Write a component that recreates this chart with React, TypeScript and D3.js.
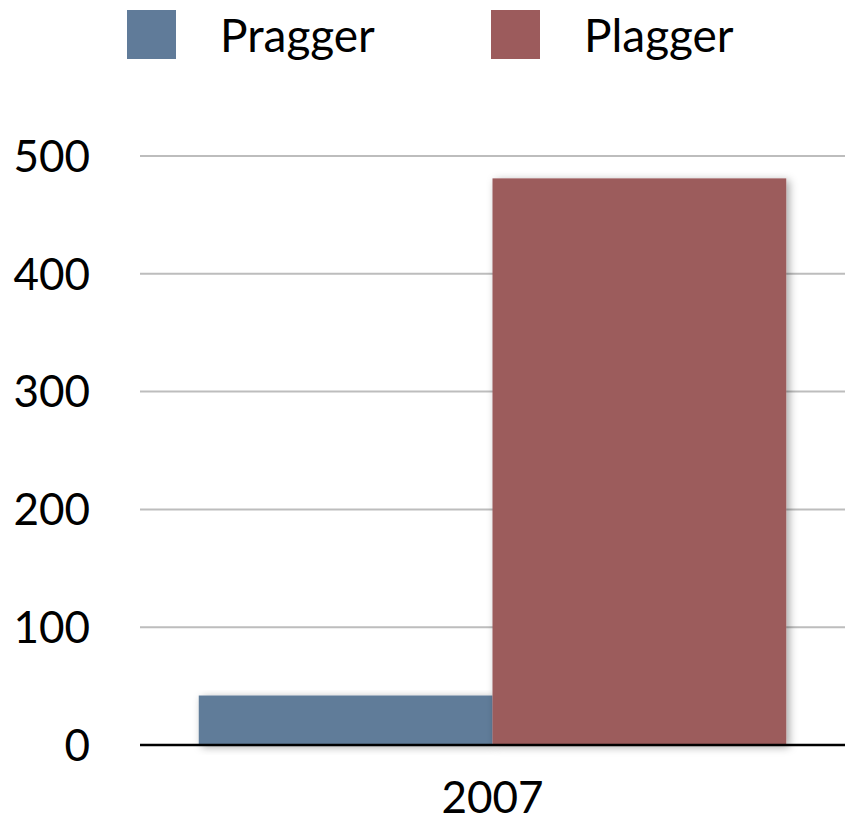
import React, { useEffect, useRef } from "react";
import * as d3 from "d3";

const categories = ["2007"];
const seriesNames = ["Pragger", "Plagger"];
const seriesColors = ["#607b99", "#9c5b5c"];
const pragger = [42];
const plagger = [481];
const yTicks = [0, 100, 200, 300, 400, 500];

const WIDTH = 855;
const HEIGHT = 823;
const FONT = "'Lato', 'Open Sans', sans-serif";

export default function App() {
  const svgRef = useRef<SVGSVGElement>(null);

  useEffect(() => {
    if (!svgRef.current) return;
    const svg = d3.select(svgRef.current);
    svg.selectAll("*").remove();

    const margin = { top: 156, right: 10, bottom: 78, left: 140 };
    const innerWidth = WIDTH - margin.left - margin.right;
    const innerHeight = HEIGHT - margin.top - margin.bottom;

    const defs = svg.append("defs");
    const shadow = defs.append("filter")
      .attr("id", "barShadow")
      .attr("x", "-10%").attr("y", "-10%")
      .attr("width", "130%").attr("height", "130%");
    shadow.append("feDropShadow")
      .attr("dx", 3).attr("dy", 2)
      .attr("stdDeviation", 4)
      .attr("flood-color", "#000")
      .attr("flood-opacity", 0.35);

    const g = svg.append("g")
      .attr("transform", `translate(${margin.left}, ${margin.top})`);

    const x0 = d3.scaleBand()
      .domain(categories)
      .range([0, innerWidth])
      .paddingInner(0)
      .paddingOuter(0.1);

    const x1 = d3.scaleBand()
      .domain(seriesNames)
      .range([0, x0.bandwidth()])
      .padding(0);

    const y = d3.scaleLinear()
      .domain([0, 500])
      .range([innerHeight, 0]);

    const color = d3.scaleOrdinal<string, string>()
      .domain(seriesNames)
      .range(seriesColors);

    // gridlines
    g.append("g")
      .selectAll("line")
      .data(yTicks.filter(t => t > 0))
      .join("line")
      .attr("x1", 0)
      .attr("x2", innerWidth)
      .attr("y1", d => y(d))
      .attr("y2", d => y(d))
      .attr("stroke", "#bdbdbd")
      .attr("stroke-width", 2);

    // y tick labels
    g.append("g")
      .selectAll("text")
      .data(yTicks)
      .join("text")
      .attr("x", -50)
      .attr("y", d => y(d))
      .attr("dy", "0.36em")
      .attr("text-anchor", "end")
      .style("font-family", FONT)
      .style("font-size", "44px")
      .attr("fill", "#000")
      .text(d => d);

    const rows = categories.map((c, i) => ({
      category: c,
      values: [
        { key: seriesNames[0], value: pragger[i] },
        { key: seriesNames[1], value: plagger[i] },
      ],
    }));

    // bars
    g.append("g")
      .selectAll("g")
      .data(rows)
      .join("g")
      .attr("transform", d => `translate(${x0(d.category)}, 0)`)
      .selectAll("rect")
      .data(d => d.values)
      .join("rect")
      .attr("x", d => x1(d.key) || 0)
      .attr("y", d => y(d.value))
      .attr("width", x1.bandwidth())
      .attr("height", d => innerHeight - y(d.value))
      .attr("fill", d => color(d.key))
      .attr("filter", "url(#barShadow)");

    // baseline
    g.append("line")
      .attr("x1", 0)
      .attr("x2", innerWidth)
      .attr("y1", y(0))
      .attr("y2", y(0))
      .attr("stroke", "#000")
      .attr("stroke-width", 2.5);

    // x labels
    g.append("g")
      .selectAll("text")
      .data(categories)
      .join("text")
      .attr("x", d => (x0(d) || 0) + x0.bandwidth() / 2)
      .attr("y", innerHeight + 68)
      .attr("text-anchor", "middle")
      .style("font-family", FONT)
      .style("font-size", "44px")
      .attr("fill", "#000")
      .text(d => d);

    // legend
    const legendX = [127, 491];
    const legend = svg.append("g").attr("class", "legend");
    const items = legend.selectAll("g")
      .data(seriesNames)
      .join("g")
      .attr("transform", (d, i) => `translate(${legendX[i]}, 10)`);

    items.append("rect")
      .attr("width", 49)
      .attr("height", 49)
      .attr("fill", d => color(d));

    items.append("text")
      .attr("x", 93)
      .attr("y", 42)
      .style("font-family", FONT)
      .style("font-size", "46px")
      .attr("fill", "#000")
      .text(d => d);
  }, []);

  return (
    <svg
      ref={svgRef}
      width={WIDTH}
      height={HEIGHT}
      style={{ position: "absolute", left: 0, top: 0, background: "#fff" }}
    />
  );
}
